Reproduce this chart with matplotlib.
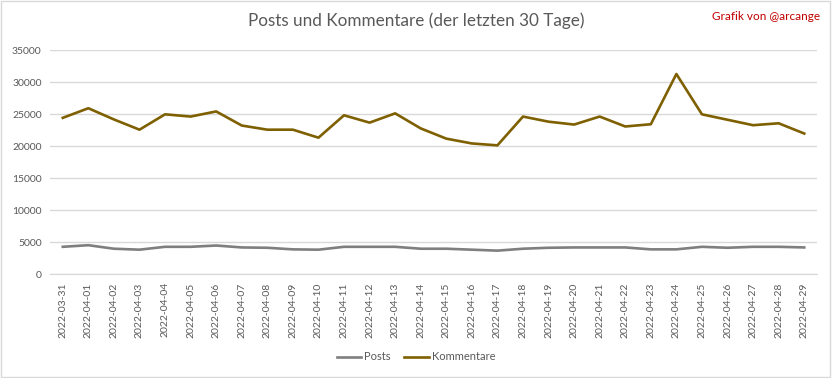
import matplotlib.pyplot as plt
from matplotlib.patches import Rectangle

plt.rcParams['font.family'] = ['Lato', 'DejaVu Sans']

# Daten
dates = ['2022-03-31', '2022-04-01', '2022-04-02', '2022-04-03', '2022-04-04',
         '2022-04-05', '2022-04-06', '2022-04-07', '2022-04-08', '2022-04-09',
         '2022-04-10', '2022-04-11', '2022-04-12', '2022-04-13', '2022-04-14',
         '2022-04-15', '2022-04-16', '2022-04-17', '2022-04-18', '2022-04-19',
         '2022-04-20', '2022-04-21', '2022-04-22', '2022-04-23', '2022-04-24',
         '2022-04-25', '2022-04-26', '2022-04-27', '2022-04-28', '2022-04-29']
posts = [4250, 4500, 3950, 3800, 4250, 4250, 4450, 4150, 4100, 3850,
         3800, 4250, 4250, 4250, 3950, 3950, 3800, 3650, 3950, 4100,
         4150, 4150, 4150, 3850, 3850, 4250, 4100, 4250, 4250, 4150]
kommentare = [24400, 25900, 24150, 22550, 24950, 24600, 25400, 23200, 22550, 22550,
              21300, 24800, 23650, 25100, 22750, 21150, 20400, 20100, 24600, 23800,
              23350, 24600, 23050, 23400, 31250, 24950, 24100, 23250, 23550, 21950]
yticks = [0, 5000, 10000, 15000, 20000, 25000, 30000, 35000]

grey_txt = '#595959'

fig = plt.figure(figsize=(8.32, 3.78), dpi=100)
fig.patches.append(Rectangle((0.001, 0.002), 0.997, 0.995, transform=fig.transFigure,
                             fill=False, edgecolor='#D9D9D9', lw=1))
ax = fig.add_axes([50 / 832, 1 - 274 / 378, 767 / 832, 224 / 378])

x = list(range(len(dates)))
ax.plot(x, posts, color='#7F7F7F', lw=1.9, label='Posts')
ax.plot(x, kommentare, color='#7F6000', lw=1.9, label='Kommentare')

ax.set_xlim(-0.5, len(dates) - 0.5)
ax.set_ylim(0, 35000)
ax.set_yticks(yticks)
ax.set_yticklabels([str(v) for v in yticks], fontsize=7.5, color=grey_txt)
ax.set_xticks(x)
ax.set_xticklabels(dates, rotation=90, fontsize=7.5, color=grey_txt)
ax.tick_params(length=0, pad=6)
ax.grid(axis='y', color='#D9D9D9', lw=1)
ax.set_axisbelow(True)
for s in ['top', 'right', 'left']:
    ax.spines[s].set_visible(False)
ax.spines['bottom'].set_color('#D9D9D9')

fig.text(0.5, 1 - 21 / 378, 'Posts und Kommentare (der letzten 30 Tage)',
         ha='center', va='center', fontsize=12.3, color=grey_txt)
fig.text(820 / 832, 1 - 16 / 378, 'Grafik von @arcange', ha='right', va='center',
         fontsize=8.5, color='#C00000')

fig.legend(loc='center', bbox_to_anchor=(416 / 832, 1 - 357 / 378), ncol=2,
           frameon=False, fontsize=8, labelcolor=grey_txt, handlelength=2.2,
           handletextpad=0.3, columnspacing=1.2)

fig.savefig('out.png', dpi=100)
